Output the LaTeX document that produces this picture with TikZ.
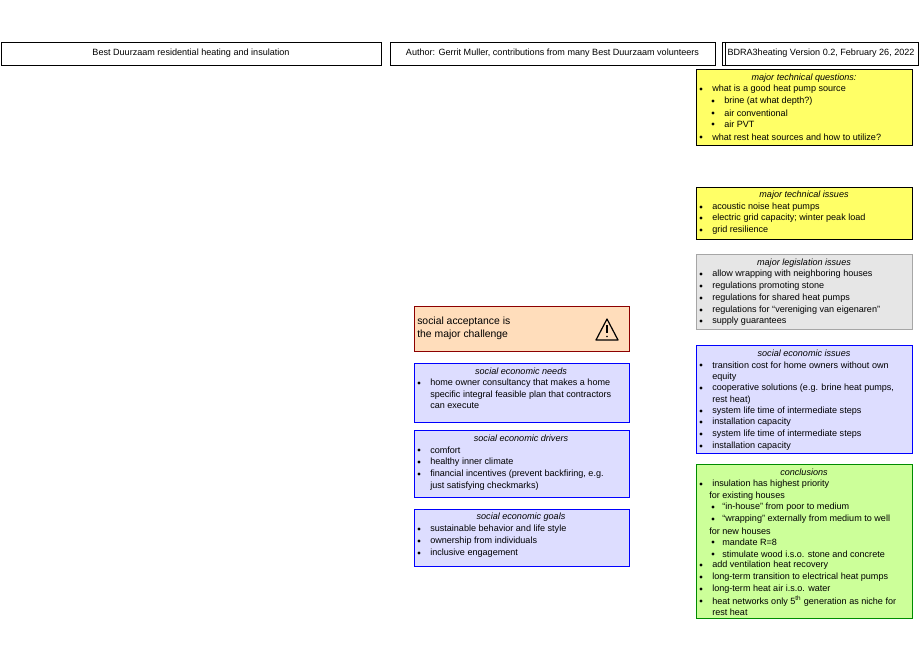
\documentclass[tikz,border=0pt]{standalone}
\usepackage{fontspec}
\setmainfont{Liberation Sans}
\begin{document}
\begin{tikzpicture}[x=0.75pt,y=-0.75pt,
  box/.style={draw,line width=0.6pt},
  txt/.style={anchor=west,inner sep=0pt,font=\fontsize{6.8}{8}\selectfont},
  hd/.style={anchor=center,inner sep=0pt,font=\fontsize{6.8}{8}\selectfont},
  ttl/.style={anchor=center,inner sep=0pt,font=\fontsize{6.8}{8}\selectfont\itshape}]
\useasboundingbox (0,0) rectangle (920,660);
\definecolor{yel}{RGB}{255,255,102}
\definecolor{gry}{RGB}{230,230,230}
\definecolor{blu}{RGB}{221,221,255}
\definecolor{grn}{RGB}{204,255,153}
\definecolor{sal}{RGB}{255,221,187}
\definecolor{dgreen}{RGB}{0,140,0}
\definecolor{dred}{RGB}{140,0,0}
\newcommand{\tl}[3]{\node[txt] at (#1,#2) {#3};}
\newcommand{\bl}[4]{\fill (#1+3,#3) circle (1.6); \node[txt] at (#2,#3) {#4};}
% headers
\draw[box] (1,42) rectangle (381,65); \node[hd] (h1) at (191,53.5) {Best Duurzaam residential heating and insulation};
\draw[box] (390,42) rectangle (715,65); \node[hd] (h2) at (552.5,53.5) {Author: Gerrit Muller, contributions from many Best Duurzaam volunteers};
\draw[box] (722,42) rectangle (918,65); \draw[line width=0.6pt] (725,42) -- (725,65); \node[hd] (h3) at (821,53.5) {BDRA3heating Version 0.2, February 26, 2022};
% questions
\draw[box,fill=yel] (696,69) rectangle (912,145); \coordinate (q) at (696,69);
\node[ttl] at (804,78) {major technical questions:};
\bl{698}{712}{89}{what is a good heat pump source}
\bl{710}{724}{101}{brine (at what depth?)}
\bl{710}{724}{113}{air conventional}
\bl{710}{724}{124}{air PVT}
\bl{698}{712}{137}{what rest heat sources and how to utilize?}
% issues
\draw[box,fill=yel] (696,187) rectangle (912,239);
\node[ttl] at (804,195) {major technical issues};
\bl{698}{712}{207}{acoustic noise heat pumps}
\bl{698}{712}{218}{electric grid capacity; winter peak load}
\bl{698}{712}{230}{grid resilience}
% legislation
\draw[box,draw=gray!70,fill=gry] (696,254) rectangle (912,329);
\node[ttl] at (804,263) {major legislation issues};
\bl{698}{712}{274}{allow wrapping with neighboring houses}
\bl{698}{712}{286}{regulations promoting stone}
\bl{698}{712}{298}{regulations for shared heat pumps}
\bl{698}{712}{310}{regulations for ``vereniging van eigenaren''}
\bl{698}{712}{321}{supply guarantees}
% se issues
\draw[box,draw=blue,fill=blu] (696,345) rectangle (912,453);
\node[ttl] at (804,353) {social economic issues};
\bl{698}{712}{365}{transition cost for home owners without own}
\tl{712}{377}{equity}
\bl{698}{712}{388}{cooperative solutions (e.g. brine heat pumps,}
\tl{712}{400}{rest heat)}
\bl{698}{712}{411}{system life time of intermediate steps}
\bl{698}{712}{422}{installation capacity}
\bl{698}{712}{434}{system life time of intermediate steps}
\bl{698}{712}{446}{installation capacity}
% conclusions
\draw[box,draw=dgreen,fill=grn] (696,464) rectangle (912,618);
\node[ttl] at (804,472) {conclusions};
\bl{698}{712}{484}{insulation has highest priority}
\tl{709}{496}{for existing houses}
\bl{710}{722}{507}{``in-house'' from poor to medium}
\bl{710}{722}{519}{``wrapping'' externally from medium to well}
\tl{709}{531}{for new houses}
\bl{710}{722}{542}{mandate R=8}
\bl{710}{722}{554}{stimulate wood i.s.o. stone and concrete}
\bl{698}{712}{565}{add ventilation heat recovery}
\bl{698}{712}{577}{long-term transition to electrical heat pumps}
\bl{698}{712}{589}{long-term heat air i.s.o. water}
\bl{698}{712}{601}{heat networks only 5\textsuperscript{th} generation as niche for}
\tl{712}{612}{rest heat}
% challenge
\draw[box,draw=dred,fill=sal] (414,306) rectangle (629,351);
\node[txt,font=\fontsize{7.8}{9.5}\selectfont,align=left,anchor=west] (ch) at (417,328) {social acceptance is\\the major challenge};
\draw[line width=0.9pt,line join=round] (596,340) -- (607,319) -- (618,340) -- cycle;
\draw[line width=1pt] (607,325) -- (607,333);
\fill (607,336.5) circle (0.9);
% needs
\draw[box,draw=blue,fill=blu] (414,363) rectangle (629,422);
\node[ttl] at (521,371) {social economic needs};
\bl{416}{430}{383}{home owner consultancy that makes a home}
\tl{430}{395}{specific integral feasible plan that contractors}
\tl{430}{406}{can execute}
% drivers
\draw[box,draw=blue,fill=blu] (414,430) rectangle (629,497);
\node[ttl] at (521,438) {social economic drivers};
\bl{416}{430}{450}{comfort}
\bl{416}{430}{462}{healthy inner climate}
\bl{416}{430}{474}{financial incentives (prevent backfiring, e.g.}
\tl{430}{486}{just satisfying checkmarks)}
% goals
\draw[box,draw=blue,fill=blu] (414,509) rectangle (629,566);
\node[ttl] at (521,517) {social economic goals};
\bl{416}{430}{529}{sustainable behavior and life style}
\bl{416}{430}{541}{ownership from individuals}
\bl{416}{430}{553}{inclusive engagement}
\end{tikzpicture}
\end{document}
